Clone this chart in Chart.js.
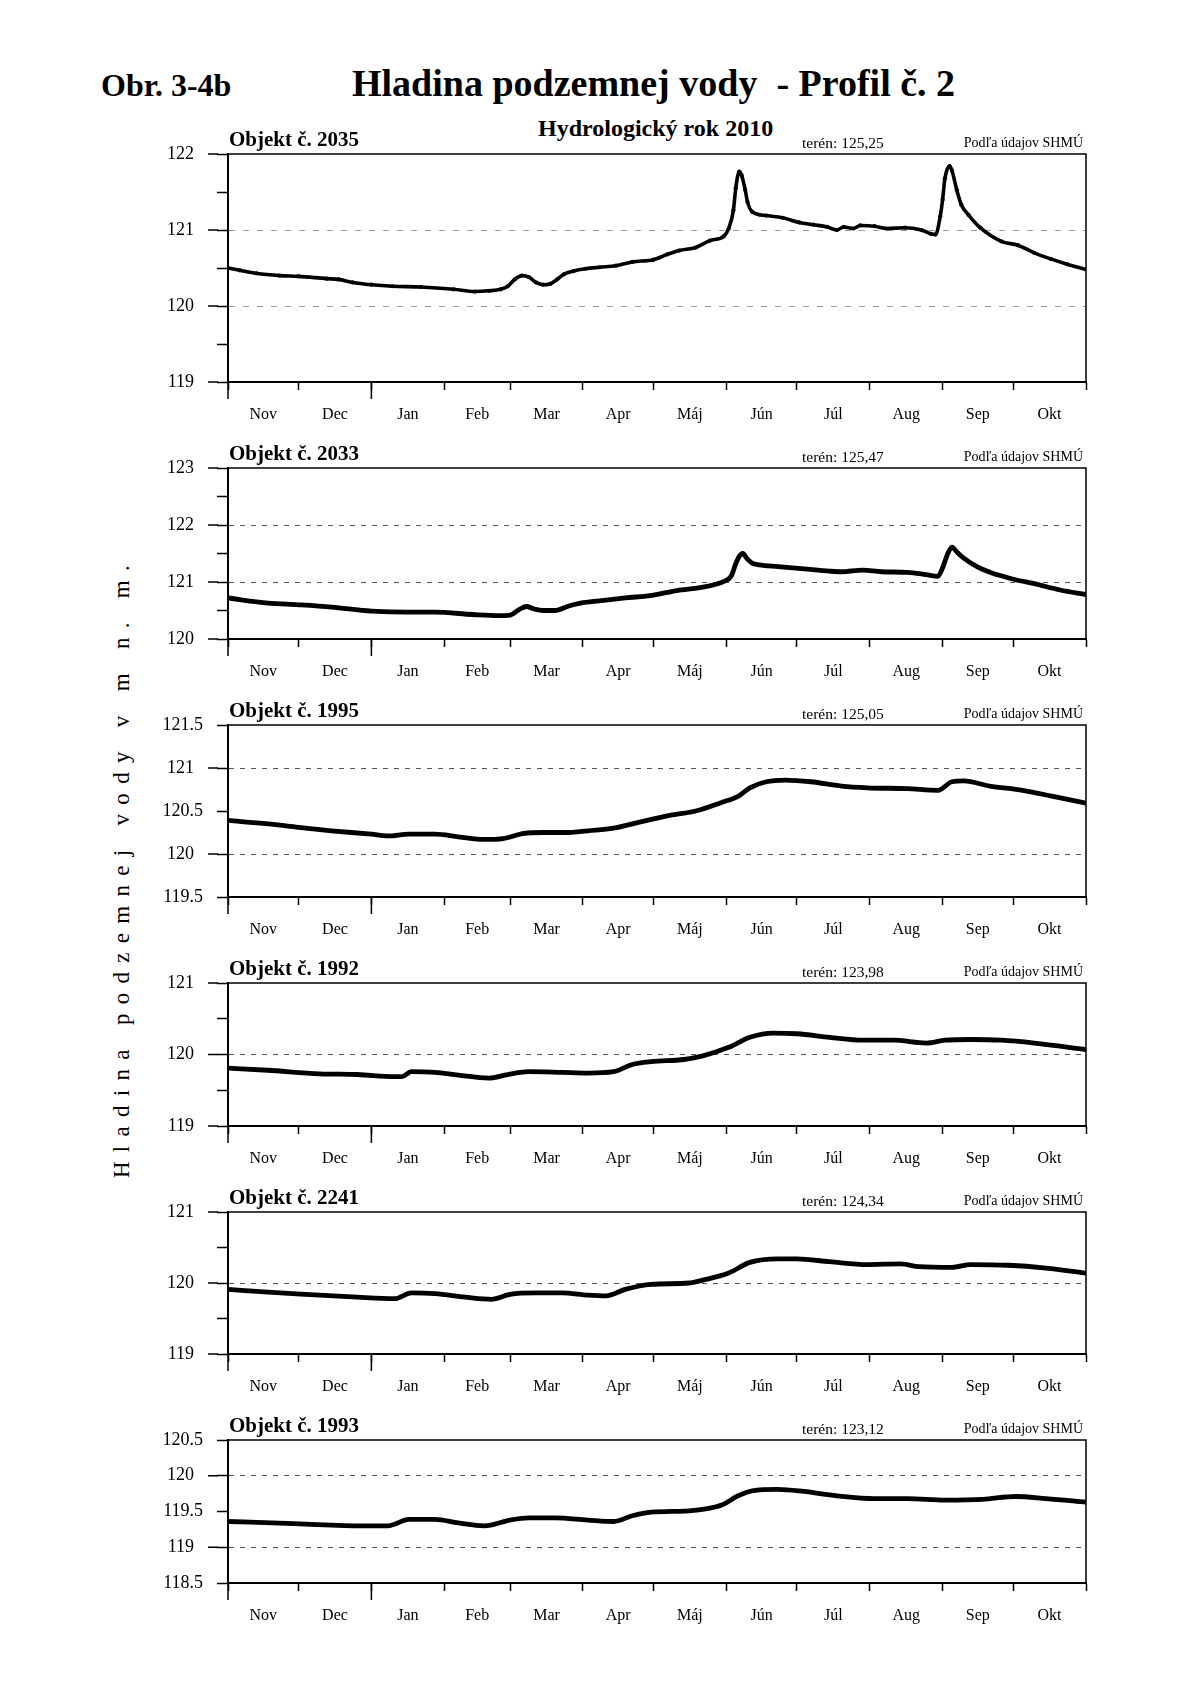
<!DOCTYPE html>
<html><head><meta charset="utf-8">
<script src="https://cdn.jsdelivr.net/npm/chart.js@4/dist/chart.umd.min.js"></script>
<style>
html,body{margin:0;padding:0;background:#fff;}
body{width:1200px;height:1698px;position:relative;overflow:hidden;font-family:"Liberation Serif","Times New Roman",serif;color:#000;}
.t{position:absolute;white-space:nowrap;line-height:1;}
canvas{position:absolute;left:0;}
#ytitle{position:absolute;left:121px;top:867px;font-size:23px;letter-spacing:9.3px;white-space:nowrap;transform:translate(-50%,-50%) rotate(-90deg);line-height:1;}
</style></head><body>
<div id="ytitle">Hladina podzemnej vody v m n. m.</div>
<script>
// ---- data ----
const months = ['Nov','Dec','Jan','Feb','Mar','Apr','Máj','Jún','Júl','Aug','Sep','Okt'];
const monthStartDays = [0,30,61,92,120,151,181,212,242,273,304,334,365];
const yearStartDays = [0,61];

const days2035 = [0,5,12,22,30,42,47,53,61,70,82,96,105,111,116,119,122,125,128,131,134,137,140,143,147,152,158,165,172,181,187,192,199,205,211,213,215,216,217.5,218.5,220,221,223,229,236,243,249,255,259,262,266,269,275,280,288,295,299,301,303,304,305,307,308,310,312,315,320,329,336,343,350,357,365];
const level2035 = [120.50,120.47,120.43,120.40,120.39,120.36,120.35,120.31,120.28,120.26,120.25,120.22,120.19,120.20,120.22,120.26,120.35,120.40,120.38,120.31,120.28,120.29,120.35,120.42,120.46,120.49,120.51,120.53,120.58,120.61,120.68,120.73,120.77,120.86,120.92,121.02,121.26,121.55,121.77,121.72,121.53,121.37,121.24,121.19,121.16,121.10,121.07,121.04,121.00,121.04,121.02,121.06,121.05,121.02,121.03,121.00,120.95,120.94,121.18,121.40,121.68,121.84,121.78,121.53,121.33,121.20,121.03,120.85,120.80,120.70,120.62,120.55,120.48];

const days2033 = [0,17,30,44,61,77,88,104,115,120,124,127,130,134,139,145,150,158,169,181,191,202,211,214,216,217.5,219,221,223,226,234,245,256,261,270,278,289,297,302,304,306,308,310,313,319,327,335,343,354,365];
const level2033 = [120.72,120.63,120.60,120.56,120.49,120.47,120.47,120.43,120.41,120.42,120.52,120.57,120.53,120.50,120.50,120.58,120.63,120.67,120.72,120.77,120.85,120.91,121.01,121.10,121.32,121.45,121.50,121.40,121.33,121.30,121.27,121.23,121.19,121.18,121.21,121.18,121.17,121.13,121.10,121.25,121.48,121.61,121.53,121.42,121.26,121.13,121.04,120.97,120.86,120.78];

const days1995 = [0,17,30,44,61,68,77,88,98,109,117,126,134,145,153,164,175,188,199,210,217,222,229,237,248,261,272,289,302,308,313,324,338,351,365];
const level1995 = [120.39,120.35,120.31,120.27,120.23,120.21,120.23,120.23,120.20,120.17,120.18,120.24,120.25,120.25,120.27,120.30,120.37,120.45,120.50,120.60,120.67,120.77,120.84,120.86,120.84,120.79,120.77,120.76,120.74,120.84,120.85,120.79,120.74,120.67,120.59];

const days1992 = [0,17,39,55,71,74,78,88,98,111,119,128,142,153,164,172,180,194,202,213,222,232,242,256,270,283,297,305,316,329,343,365];
const level1992 = [119.81,119.78,119.73,119.72,119.69,119.69,119.76,119.75,119.71,119.67,119.72,119.76,119.75,119.74,119.76,119.86,119.90,119.93,119.98,120.10,120.24,120.30,120.29,120.24,120.20,120.20,120.16,120.20,120.21,120.20,120.16,120.07];

const days2241 = [0,17,39,55,71,78,88,101,112,120,131,142,153,161,169,180,196,202,213,222,234,242,256,272,286,294,308,316,332,348,365];
const level2241 = [119.91,119.87,119.83,119.80,119.78,119.86,119.85,119.80,119.77,119.84,119.86,119.86,119.83,119.82,119.91,119.98,120.00,120.04,120.14,120.29,120.34,120.34,120.30,120.26,120.27,120.23,120.22,120.26,120.25,120.21,120.14];

const days1993 = [0,28,44,55,68,77,88,98,109,120,128,139,153,164,172,180,196,204,210,217,223,234,245,259,275,289,305,321,335,348,365];
const level1993 = [119.36,119.33,119.31,119.30,119.30,119.39,119.39,119.34,119.30,119.38,119.41,119.41,119.38,119.36,119.44,119.49,119.51,119.54,119.59,119.72,119.79,119.81,119.78,119.72,119.68,119.68,119.66,119.67,119.71,119.68,119.63];

const objektNames = ['2035','2033','1995','1992','2241','1993'];
const terenValues = ['125,25','125,47','125,05','123,98','124,34','123,12'];
const yMins = [119,120,119.5,119,119,118.5];
const yMaxs = [122,123,121.5,121,121,120.5];

// ---- layout ----
const FONT = "'Liberation Serif','Times New Roman',serif";
const LEFT = 228, RIGHT = 1086;
const panelTops = [154,468,725,983,1212,1440];
const panelBottoms = [382,639,897,1126,1354,1583];
const series = [[days2035,level2035],[days2033,level2033],[days1995,level1995],[days1992,level1992],[days2241,level2241],[days1993,level1993]];
const monthMidDays = months.map((m,i)=>(monthStartDays[i]+monthStartDays[i+1])/2);

function addText(txt, x, baseline, size, bold, align){
  const d = document.createElement('div');
  d.className = 't';
  d.textContent = txt;
  d.style.fontSize = size + 'px';
  d.style.fontWeight = bold ? 'bold' : 'normal';
  d.style.top = (baseline - 0.8375*size) + 'px';
  if (align === 'right') { d.style.right = (1200 - x) + 'px'; } else { d.style.left = x + 'px'; }
  document.body.appendChild(d);
  return d;
}

addText('Obr. 3-4b', 101, 96, 32, true);
addText('Hladina podzemnej vody  - Profil č. 2', 352, 96, 38, true).style.whiteSpace='pre';
addText('Hydrologický rok 2010', 538, 136, 24, true);

const SHORT_TICK = 11, LONG_TICK = 20;
const framePlugin = {
  id:'frame',
  afterDraw(chart){
    const {ctx, chartArea:a} = chart;
    const ys = chart.scales.y, xs = chart.scales.x;
    ctx.save();
    ctx.strokeStyle = '#000';
    ctx.lineWidth = 1.5;
    ctx.beginPath();
    ctx.moveTo(a.left, a.top); ctx.lineTo(a.right, a.top); ctx.lineTo(a.right, a.bottom);
    ctx.stroke();
    // integer values get longer tick marks
    ys.ticks.forEach(t=>{
      if (Number.isInteger(t.value)) {
        const y = ys.getPixelForValue(t.value);
        ctx.beginPath(); ctx.moveTo(a.left-LONG_TICK, y); ctx.lineTo(a.left-SHORT_TICK+1, y); ctx.stroke();
      }
    });
    // longer ticks at year start
    yearStartDays.forEach(d=>{
      const x = xs.getPixelForValue(d);
      ctx.beginPath(); ctx.moveTo(x, a.bottom); ctx.lineTo(x, a.bottom+17); ctx.stroke();
    });
    ctx.restore();
  }
};

const PAD_TOP = 30, PAD_BOTTOM = 52;
series.forEach((s, i)=>{
  const top = panelTops[i], bottom = panelBottoms[i];
  const min = yMins[i], max = yMaxs[i];
  const halfLabels = !Number.isInteger(min);
  const canvas = document.createElement('canvas');
  canvas.width = 1200;
  canvas.height = bottom - top + PAD_TOP + PAD_BOTTOM;
  canvas.style.top = (top - PAD_TOP) + 'px';
  document.body.appendChild(canvas);

  addText('Objekt č. ' + objektNames[i], 229, top - 7, 21, true);
  addText('terén: ' + terenValues[i], 802, top - 6, 15.5, false);
  addText('Podľa údajov SHMÚ', 1083, top - 6, 14, false, 'right');

  const pts = s[0].map((d,k)=>({x:d, y:s[1][k]}));
  const gridColor = i === 0 ? '#9a9a9a' : '#555';
  const dash = i === 0 ? [6,8] : [5,6];
  new Chart(canvas, {
    type:'line',
    data:{datasets:[{data:pts, borderColor:'#000', borderWidth: i===0 ? 3.6 : 4.8,
      pointRadius: i===0 ? 2.1 : 0, pointBackgroundColor:'#000', pointBorderWidth:0,
      cubicInterpolationMode:'monotone', fill:false}]},
    options:{
      responsive:false, animation:false, devicePixelRatio:1,
      layout:{padding:{top:PAD_TOP, right:1200-RIGHT, left:0, bottom:0}},
      plugins:{legend:{display:false}, tooltip:{enabled:false}, title:{display:false}},
      scales:{
        x:{type:'linear', position:'bottom', min:0, max:365,
          afterBuildTicks: sc => { sc.ticks = monthStartDays.map(v=>({value:v})); },
          afterFit: sc => { sc.height = 8; },
          ticks:{display:false},
          grid:{drawOnChartArea:false, drawTicks:true, tickLength:8, tickColor:'#000', tickWidth:1.5},
          border:{color:'#000', width:2}},
        xm:{type:'linear', position:'bottom', min:0, max:365,
          afterBuildTicks: sc => { sc.ticks = monthMidDays.map(v=>({value:v})); },
          afterFit: sc => { sc.height = PAD_BOTTOM - 8; },
          ticks:{autoSkip:false, maxRotation:0, minRotation:0, padding:15, color:'#000',
            font:{family:FONT, size:16}, callback:(v,k)=>months[k]},
          grid:{display:false, drawTicks:false}, border:{display:false}},
        y:{type:'linear', position:'left', min:min, max:max,
          afterBuildTicks: sc => { const t=[]; for(let v=min; v<=max+1e-9; v+=0.5) t.push({value:Math.round(v*10)/10}); sc.ticks=t; },
          afterFit: sc => { sc.width = LEFT; },
          ticks:{padding:14, color:'#000', font:{family:FONT, size:18},
            callback: v => Number.isInteger(v) ? String(v) + '\u2002' : (halfLabels ? String(v) : '')},
          grid:{lineWidth:1, tickLength:SHORT_TICK, tickWidth:1.5,
            color: c => (c.tick && Number.isInteger(c.tick.value) && c.tick.value>min && c.tick.value<max) ? gridColor : 'rgba(0,0,0,0)',
            tickColor:'#000'},
          border:{color:'#000', width:2, dash:dash}}
      }
    },
    plugins:[framePlugin]
  });
});
</script>
</body></html>
